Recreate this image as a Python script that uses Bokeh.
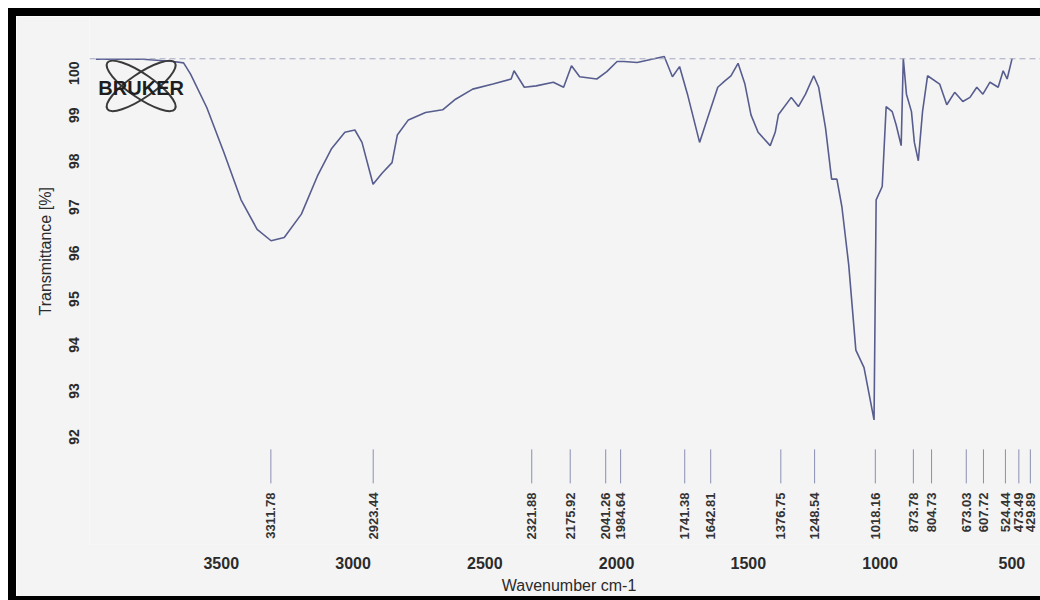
import math
from bokeh.plotting import figure
from bokeh.models import Range1d, FixedTicker, Span, Title, ColumnDataSource
from bokeh.core.properties import value
from bokeh.embed import file_html
from bokeh.resources import INLINE

# ---------------- data ----------------
wavenumber = [3976, 3797, 3682, 3643, 3617, 3555, 3490, 3425, 3364, 3311, 3261, 3196,
              3135, 3081, 3031, 2993, 2966, 2924, 2890, 2852, 2832, 2790, 2725, 2660,
              2611, 2546, 2469, 2400, 2389, 2350, 2305, 2240, 2201, 2171, 2140, 2075,
              2037, 1998, 1972, 1922, 1819, 1788, 1761, 1731, 1685, 1654, 1616, 1589,
              1566, 1539, 1513, 1490, 1463, 1417, 1398, 1386, 1337, 1310, 1283, 1252,
              1233, 1207, 1184, 1164, 1145, 1119, 1092, 1061, 1023, 1015, 992, 977,
              954, 939, 920, 912, 900, 881, 870, 855, 839, 820, 774, 747, 717, 686,
              659, 633, 610, 583, 552, 533, 518, 499]
transmittance = [100.05, 100.05, 100.0, 99.97, 99.73, 99.00, 98.02, 96.99, 96.35, 96.10, 96.17, 96.68,
                 97.51, 98.11, 98.46, 98.51, 98.24, 97.33, 97.57, 97.80, 98.40, 98.73, 98.89, 98.95,
                 99.18, 99.40, 99.51, 99.62, 99.80, 99.44, 99.47, 99.55, 99.44, 99.91, 99.67, 99.62,
                 99.78, 100.0, 100.0, 99.98, 100.11, 99.67, 99.89, 99.29, 98.24, 98.78, 99.44, 99.58,
                 99.69, 99.96, 99.51, 98.84, 98.46, 98.17, 98.46, 98.84, 99.22, 99.02, 99.29, 99.69,
                 99.44, 98.55, 97.44, 97.44, 96.84, 95.57, 93.72, 93.34, 92.20, 96.99, 97.28, 99.02,
                 98.91, 98.62, 98.17, 100.07, 99.29, 98.91, 98.24, 97.84, 98.91, 99.69, 99.51, 99.06, 99.33, 99.13,
                 99.22, 99.44, 99.29, 99.55, 99.44, 99.80, 99.62, 100.07]

peak_wavenumbers = [3311.78, 2923.44, 2321.88, 2175.92, 2041.26, 1984.64, 1741.38, 1642.81,
                    1376.75, 1248.54, 1018.16, 873.78, 804.73, 673.03, 607.72, 524.44,
                    473.49, 429.89]
peak_labels = ["3311.78", "2923.44", "2321.88", "2175.92", "2041.26", "1984.64", "1741.38",
               "1642.81", "1376.75", "1248.54", "1018.16", "873.78", "804.73", "673.03",
               "607.72", "524.44", "473.49", "429.89"]

x_ticks = [3500, 3000, 2500, 2000, 1500, 1000, 500]
y_ticks = [92, 93, 94, 95, 96, 97, 98, 99, 100]

# ---------------- style constants ----------------
BG = "#f4f4f4"
LINE = "#575d8e"
TXT = "#2b2b2b"
FONT = value("Liberation Sans")

p = figure(width=1024, height=580, output_backend="svg", toolbar_location=None,
           x_range=Range1d(4000, 361), y_range=Range1d(89.49, 100.98),
           min_border_left=73, min_border_right=0, min_border_top=0, min_border_bottom=64)
p.title.visible = False
p.background_fill_color = BG
p.border_fill_color = BG
p.outline_line_color = None
p.grid.visible = False
# scanned-page frame: white margin + black edge (top, left, bottom)
p.styles = {"box-sizing": "content-box", "margin-left": "8px", "margin-top": "8px",
            "border-left": "8px solid black", "border-top": "8px solid black",
            "border-bottom": "4px solid black", "border-right": "0px"}

# axes
xa = p.xaxis[0]
xa.ticker = FixedTicker(ticks=x_ticks)
xa.axis_line_color = None
xa.major_tick_line_color = None
xa.minor_tick_line_color = None
xa.major_tick_out = 0
xa.minor_tick_out = 0
xa.major_label_standoff = 12
xa.major_label_text_font = "Liberation Sans"
xa.major_label_text_font_size = "16px"
xa.major_label_text_font_style = "bold"
xa.major_label_text_color = TXT
xa.axis_label = "Wavenumber cm-1"
xa.axis_label_standoff = 5
xa.axis_label_text_font = "Liberation Sans"
xa.axis_label_text_font_size = "16px"
xa.axis_label_text_font_style = "normal"
xa.axis_label_text_color = TXT

ya = p.yaxis[0]
ya.ticker = FixedTicker(ticks=y_ticks)
ya.axis_line_color = None
ya.major_tick_line_color = None
ya.minor_tick_line_color = None
ya.major_tick_out = 0
ya.minor_tick_out = 0
ya.major_label_standoff = 15
ya.major_label_orientation = math.pi / 2
ya.major_label_text_font = "Liberation Sans"
ya.major_label_text_font_size = "14px"
ya.major_label_text_font_style = "bold"
ya.major_label_text_color = TXT

# y-axis title, set beside the ticked range as in the printout
p.add_layout(Title(text="Transmittance [%]", align="left", offset=229, standoff=16,
                   text_font="Liberation Sans", text_font_size="16px",
                   text_font_style="normal", text_color=TXT), "left")

# 100 % reference line
p.add_layout(Span(location=100.06, dimension="width", line_color="#a4a7c0",
                  line_dash="6 4", line_width=1))

# spectrum
p.line(wavenumber, transmittance, line_color=LINE, line_width=1.6)

# peak markers and labels
src = ColumnDataSource(dict(x=peak_wavenumbers, label=peak_labels))
p.segment(x0="x", y0=91.56, x1="x", y1=90.82, source=src, line_color="#8a8fb2", line_width=1)
p.text(x="x", y=90.62, text="label", source=src, angle=math.pi / 2,
       text_align="right", text_baseline="middle", text_font=FONT,
       text_font_style="bold", text_font_size="13px", text_color="#333333")

# BRUKER logo
LOGO_X, LOGO_Y = 3804, 99.47
p.ellipse(x=[LOGO_X, LOGO_X], y=[LOGO_Y, LOGO_Y], width=82, height=24,
          width_units="screen", height_units="screen", angle=[0.6, -0.6],
          fill_color=None, line_color="#3a3a3a", line_width=2)
p.text(x=[LOGO_X], y=[LOGO_Y - 0.05], text=["BRUKER"], text_align="center",
       text_baseline="middle", text_font=FONT, text_font_style="bold",
       text_font_size="20px", text_color="#1e1e1e")

open("out.html", "w").write(file_html(p, INLINE))
